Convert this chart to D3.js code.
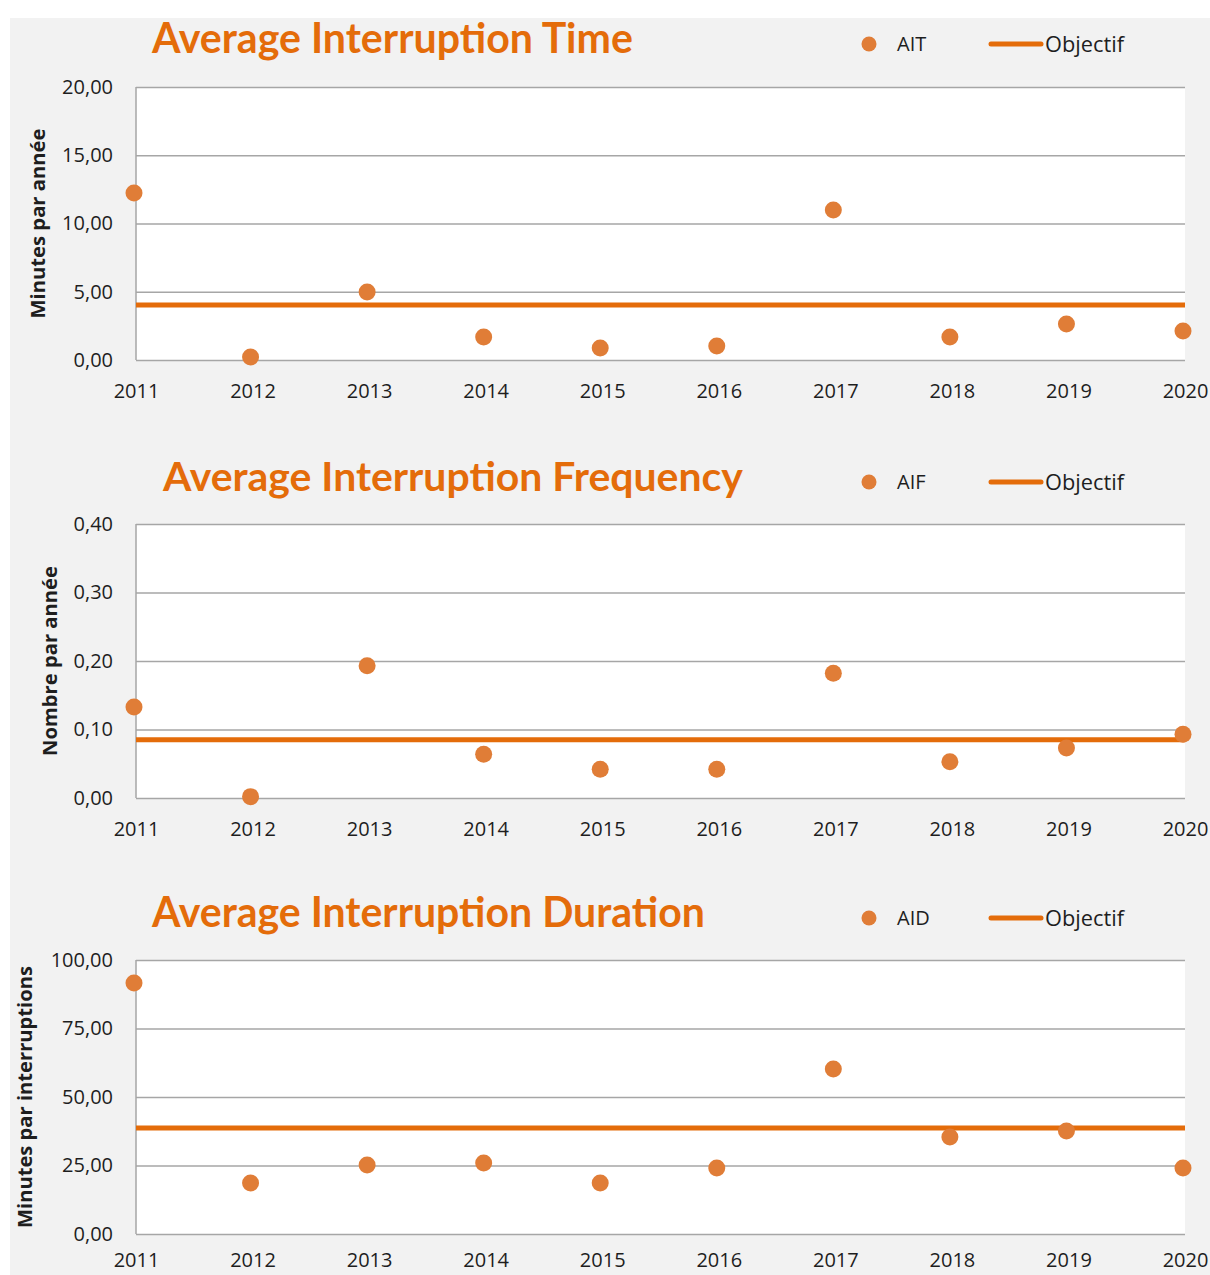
<!DOCTYPE html>
<html>
<head>
<meta charset="utf-8">
<title>Interruptions</title>
<script src="https://cdn.jsdelivr.net/npm/d3@7"></script>
<style>
  body { margin: 0; background: #fff; }
  text { font-family: "Open Sans", Lato, sans-serif; }
</style>
</head>
<body>
<script>
// données
var years = [2011, 2012, 2013, 2014, 2015, 2016, 2017, 2018, 2019, 2020];
var aitValues = [12.23, 0.22, 4.98, 1.68, 0.88, 1.03, 10.99, 1.68, 2.64, 2.12];
var aifValues = [0.133, 0.002, 0.193, 0.064, 0.042, 0.042, 0.182, 0.053, 0.073, 0.093];
var aidValues = [91.6, 18.6, 25.2, 25.9, 18.6, 24.1, 60.2, 35.4, 37.6, 24.1];
var objectifs = [4.03, 0.085, 38.7];
var aitTicks = [0, 5, 10, 15, 20];
var aifTicks = [0, 0.1, 0.2, 0.3, 0.4];
var aidTicks = [0, 25, 50, 75, 100];

var orange = "#e46c0a";
var dotColor = "#e07d37";
var gridColor = "#a6a6a6";
var txtColor = "#1e1e1e";

var W = 1210, H = 1275;
var svg = d3.select("body").append("svg").attr("width", W).attr("height", H);

// fond gris
svg.append("rect").attr("x", 10).attr("y", 18).attr("width", W - 10).attr("height", H - 18)
  .attr("fill", "#f2f2f2");

var fmt = function(d) { return d3.format(".2f")(d).replace(".", ","); };

// ajuste la taille de police pour obtenir la largeur voulue
function fit(t, size, width) {
  var w = t.node().getComputedTextLength();
  t.attr("font-size", size * width / w);
}

var panels = [
  { title: "Average Interruption Time", titleX: 152, titleW: 481, titleY: 53,
    serie: "AIT", values: aitValues, obj: objectifs[0], ticks: aitTicks, pad: 24,
    top: 87, bottom: 360, legendY: 44, ylabel: "Minutes par année", ylabelX: 38, ylabelW: 190 },
  { title: "Average Interruption Frequency", titleX: 163, titleW: 580, titleY: 491,
    serie: "AIF", values: aifValues, obj: objectifs[1], ticks: aifTicks, pad: 24,
    top: 524, bottom: 798, legendY: 482, ylabel: "Nombre par année", ylabelX: 50, ylabelW: 190 },
  { title: "Average Interruption Duration", titleX: 152, titleW: 553, titleY: 927,
    serie: "AID", values: aidValues, obj: objectifs[2], ticks: aidTicks, pad: 19,
    top: 960, bottom: 1234, legendY: 918, ylabel: "Minutes par interruptions", ylabelX: 25, ylabelW: 262 }
];

var x = d3.scalePoint().domain(years).range([136, 1185]);

panels.forEach(function(p) {
  var g = svg.append("g");
  var y = d3.scaleLinear()
    .domain([p.ticks[0], p.ticks[p.ticks.length - 1]])
    .range([p.bottom, p.top]);

  // zone de tracé
  g.append("rect").attr("x", 136).attr("y", p.top)
    .attr("width", 1185 - 136).attr("height", p.bottom - p.top).attr("fill", "#fff");

  // grille
  var yAxis = d3.axisLeft(y).tickValues(p.ticks).tickSize(-(1185 - 136)).tickFormat(fmt);
  var ya = g.append("g").attr("transform", "translate(136,0)").call(yAxis);
  ya.select(".domain").remove();
  ya.selectAll(".tick line").attr("stroke", gridColor).attr("stroke-width", 1.5);
  ya.selectAll(".tick text").attr("x", -23).attr("font-size", 20).attr("fill", txtColor)
    .style("font-family", "'Open Sans', sans-serif");
  g.append("line").attr("x1", 136).attr("x2", 136).attr("y1", p.top).attr("y2", p.bottom)
    .attr("stroke", gridColor).attr("stroke-width", 1.5);

  // axe x
  var xa = g.append("g").attr("transform", "translate(0," + p.bottom + ")")
    .call(d3.axisBottom(x).tickSize(0).tickPadding(p.pad));
  xa.select(".domain").remove();
  xa.selectAll(".tick text").attr("font-size", 20).attr("fill", txtColor)
    .style("font-family", "'Open Sans', sans-serif");

  // objectif
  g.append("line").attr("x1", 136).attr("x2", 1185)
    .attr("y1", y(p.obj)).attr("y2", y(p.obj))
    .attr("stroke", orange).attr("stroke-width", 5);

  // points
  g.selectAll("circle.pt").data(p.values).enter().append("circle")
    .attr("class", "pt")
    .attr("cx", function(d, i) { return x(years[i]) - 2; })
    .attr("cy", function(d) { return y(d); })
    .attr("r", 8.5)
    .attr("fill", dotColor);

  // titre
  var t = g.append("text").attr("x", p.titleX).attr("y", p.titleY)
    .attr("font-size", 36).attr("font-weight", "bold").attr("fill", orange)
    .style("font-family", "Lato, sans-serif")
    .text(p.title);
  fit(t, 36, p.titleW);

  // titre axe y
  var yl = g.append("text")
    .attr("transform", "translate(" + p.ylabelX + "," + ((p.top + p.bottom) / 2) + ") rotate(-90)")
    .attr("text-anchor", "middle").attr("dy", "0.35em")
    .attr("font-size", 18).attr("font-weight", "bold").attr("fill", txtColor)
    .text(p.ylabel);
  fit(yl, 18, p.ylabelW);

  // légende
  g.append("circle").attr("cx", 869).attr("cy", p.legendY).attr("r", 7.5).attr("fill", dotColor);
  g.append("text").attr("x", 897).attr("y", p.legendY).attr("dy", "0.35em")
    .attr("font-size", 20).attr("fill", txtColor).text(p.serie);
  g.append("line").attr("x1", 991).attr("x2", 1041).attr("y1", p.legendY).attr("y2", p.legendY)
    .attr("stroke", orange).attr("stroke-width", 5).attr("stroke-linecap", "round");
  var ob = g.append("text").attr("x", 1045).attr("y", p.legendY).attr("dy", "0.35em")
    .attr("font-size", 20).attr("fill", txtColor).text("Objectif");
  fit(ob, 20, 79);
});
</script>
</body>
</html>
